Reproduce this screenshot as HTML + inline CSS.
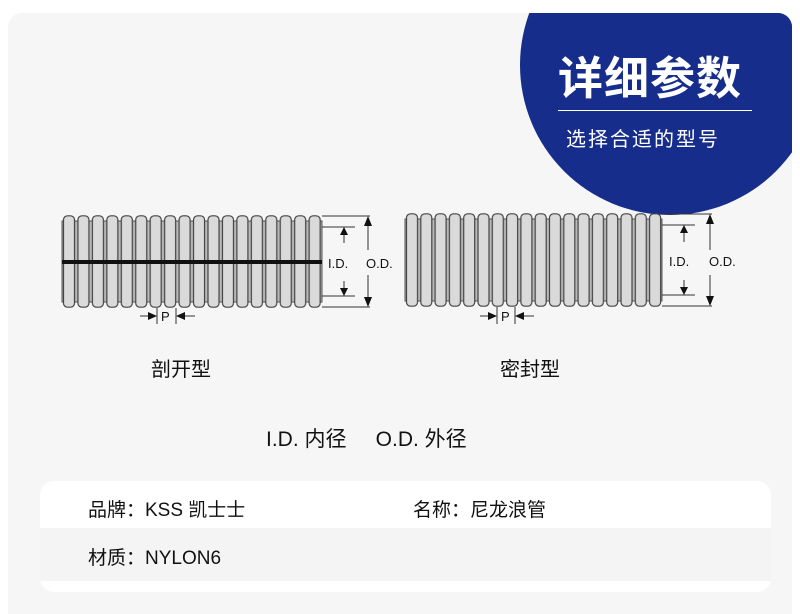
<!DOCTYPE html>
<html><head><meta charset="utf-8"><style>
html,body{margin:0;width:800px;height:614px;background:#fff;overflow:hidden;font-family:"Liberation Sans","Noto Sans CJK SC",sans-serif;}
.card{position:absolute;left:8px;top:13px;width:784px;height:601px;background:#f6f6f6;border-radius:14px 14px 0 0;overflow:hidden;}
.t{position:absolute;color:#111;white-space:nowrap;}
</style></head><body>
<div class="card">
<div style="position:absolute;left:512px;top:-98px;width:300px;height:300px;border-radius:50%;background:#162d8c"></div>
<div style="position:absolute;left:650px;top:0;width:134px;height:120px;background:#162d8c;border-top-right-radius:14px"></div>
</div>
<div class="t" style="left:558px;top:42px;font-size:45px;font-weight:bold;color:#fff;letter-spacing:1px">详细参数</div>
<div style="position:absolute;left:558px;top:110px;width:194px;height:1px;background:#fff"></div>
<div class="t" style="left:566px;top:123px;font-size:20px;color:#fff;letter-spacing:2px">选择合适的型号</div>

<svg style="position:absolute;left:0;top:0" width="800" height="614">
<defs>
<pattern id="rib" x="62" y="215" width="14.45" height="93" patternUnits="userSpaceOnUse">
<rect x="1.5" y="0.8" width="11" height="91.4" rx="4" fill="#dadada" stroke="#444" stroke-width="1.2"/>
</pattern>
<pattern id="rib2" x="405" y="213" width="14.3" height="94" patternUnits="userSpaceOnUse">
<rect x="1.5" y="0.8" width="11" height="92.4" rx="4" fill="#dadada" stroke="#444" stroke-width="1.2"/>
</pattern>
</defs>
<rect x="62" y="221" width="260" height="81" fill="#b8b8b8" stroke="#555" stroke-width="1"/>
<rect x="62" y="215" width="260" height="93" fill="url(#rib)"/>
<rect x="62" y="260" width="260" height="4" fill="#111"/>
<rect x="405" y="219" width="257" height="82" fill="#b8b8b8" stroke="#555" stroke-width="1"/>
<rect x="405" y="213" width="257" height="94" fill="url(#rib2)"/>
<g stroke="#333" stroke-width="1" fill="none">
<line x1="322" y1="216" x2="370" y2="216"/><line x1="322" y1="307" x2="370" y2="307"/>
<line x1="322" y1="227" x2="355" y2="227"/><line x1="322" y1="296" x2="355" y2="296"/>
<line x1="368" y1="222" x2="368" y2="250"/><line x1="368" y1="275" x2="368" y2="302"/>
<line x1="344" y1="232" x2="344" y2="243"/><line x1="344" y1="281" x2="344" y2="292"/>
<line x1="662" y1="214" x2="712" y2="214"/><line x1="662" y1="306" x2="712" y2="306"/>
<line x1="662" y1="225" x2="695" y2="225"/><line x1="662" y1="295" x2="695" y2="295"/>
<line x1="710" y1="220" x2="710" y2="250"/><line x1="710" y1="275" x2="710" y2="300"/>
<line x1="684" y1="230" x2="684" y2="242"/><line x1="684" y1="280" x2="684" y2="290"/>
<line x1="157" y1="308" x2="157" y2="324"/><line x1="176" y1="308" x2="176" y2="324"/>
<line x1="140" y1="316" x2="150" y2="316"/><line x1="183" y1="316" x2="195" y2="316"/>
<line x1="497" y1="307" x2="497" y2="324"/><line x1="515" y1="307" x2="515" y2="324"/>
<line x1="480" y1="316" x2="490" y2="316"/><line x1="522" y1="316" x2="534" y2="316"/>
</g>
<g fill="#111">
<polygon points="368,216 364,226 372,226"/><polygon points="368,307 364,297 372,297"/>
<polygon points="344,227 340,235 348,235"/><polygon points="344,296 340,288 348,288"/>
<polygon points="710,214 706,224 714,224"/><polygon points="710,306 706,296 714,296"/>
<polygon points="684,225 680,233 688,233"/><polygon points="684,295 680,287 688,287"/>
<polygon points="157,316 148,312 148,320"/><polygon points="176,316 185,312 185,320"/>
<polygon points="497,316 488,312 488,320"/><polygon points="515,316 524,312 524,320"/>
</g>
<g font-family="Liberation Sans,sans-serif" font-size="13" fill="#111">
<text x="328" y="268">I.D.</text><text x="366" y="268">O.D.</text>
<text x="669" y="266">I.D.</text><text x="709" y="266">O.D.</text>
<text x="161" y="321">P</text><text x="501" y="321">P</text>
</g>
</svg>

<div class="t" style="left:151px;top:353px;font-size:20px">剖开型</div>
<div class="t" style="left:500px;top:353px;font-size:20px">密封型</div>
<div class="t" style="left:266px;top:423px;font-size:21px">I.D. 内径&nbsp;&nbsp;&nbsp;&nbsp;&nbsp;O.D. 外径</div>

<div style="position:absolute;left:40px;top:481px;width:731px;height:111px;background:#fff;border-radius:14px;overflow:hidden">
<div style="position:absolute;left:0;top:47px;width:731px;height:53px;background:#f4f4f4"></div>
</div>
<div class="t" style="left:88px;top:495px;font-size:19px">品牌：KSS 凯士士</div>
<div class="t" style="left:413px;top:495px;font-size:19px">名称：尼龙浪管</div>
<div class="t" style="left:88px;top:543px;font-size:19px">材质：NYLON6</div>
</body></html>
